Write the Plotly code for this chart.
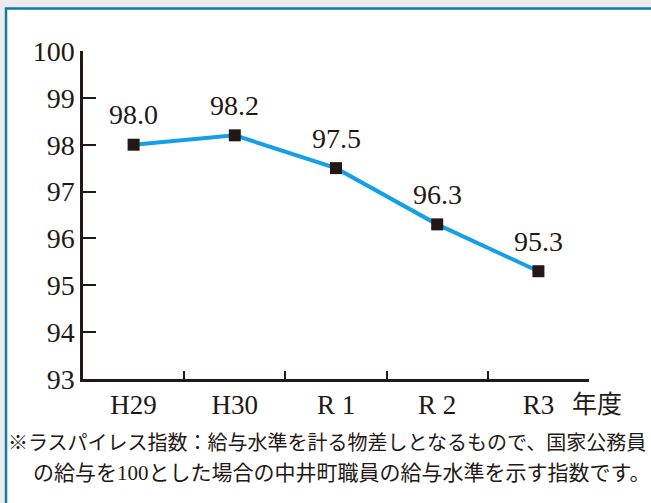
import plotly.graph_objects as go

categories = ["H29", "H30", "R 1", "R 2", "R3"]
values = [98.0, 98.2, 97.5, 96.3, 95.3]
value_labels = ["98.0", "98.2", "97.5", "96.3", "95.3"]
y_ticks = [93, 94, 95, 96, 97, 98, 99, 100]
unit_label = "年度"
note_line1 = "※ラスパイレス指数：給与水準を計る物差しとなるもので、国家公務員"
note_line2 = "の給与を100とした場合の中井町職員の給与水準を示す指数です。"

W, H = 651, 503
L, R, T, B = 83, 62, 51, 124
pw, ph = W - L - R, H - T - B

def px(x):
    return (x - L) / pw

def py(y):
    return (H - B - y) / ph

FONT = "Liberation Serif, Noto Sans CJK JP, serif"
DARK = "#231815"

fig = go.Figure()
fig.add_trace(go.Scatter(
    x=categories, y=values, mode="lines+markers",
    line=dict(color="#14a0e6", width=4),
    marker=dict(symbol="square", size=12, color=DARK),
    hoverinfo="skip", cliponaxis=False,
))

annotations = []
for c, v, t in zip(categories, values, value_labels):
    annotations.append(dict(x=c, y=v, text=t, showarrow=False, xref="x", yref="y",
                            yanchor="middle", yshift=30,
                            font=dict(family=FONT, size=28, color=DARK)))
annotations.append(dict(x=px(570), y=py(404), xref="paper", yref="paper", text=unit_label,
                        showarrow=False, xanchor="left", yanchor="middle",
                        font=dict(family=FONT, size=25, color=DARK)))
annotations.append(dict(x=px(6), y=py(443), xref="paper", yref="paper", text=note_line1,
                        showarrow=False, xanchor="left", yanchor="middle",
                        font=dict(family=FONT, size=20, color=DARK)))
annotations.append(dict(x=px(31), y=py(473), xref="paper", yref="paper", text=note_line2,
                        showarrow=False, xanchor="left", yanchor="middle",
                        font=dict(family=FONT, size=21, color=DARK)))

fig.update_layout(
    width=W, height=H,
    margin=dict(l=L, r=R, t=T, b=B, pad=0),
    paper_bgcolor="#ececec", plot_bgcolor="rgba(0,0,0,0)",
    showlegend=False,
    annotations=annotations,
    shapes=[dict(type="rect", xref="paper", yref="paper", layer="below",
                 x0=px(6), y0=py(H + 50), x1=px(W + 50), y1=py(8.5),
                 line=dict(color="#1577b0", width=2.5), fillcolor="white")],
    xaxis=dict(type="category", range=[-0.5, 4.5], tickson="boundaries",
               ticks="inside", ticklen=8, tickwidth=2, tickcolor=DARK,
               showline=True, linecolor=DARK, linewidth=2.5,
               showgrid=False, zeroline=False,
               tickfont=dict(family=FONT, size=27, color=DARK)),
    yaxis=dict(range=[93, 100], tickvals=y_ticks, ticks="inside", ticklen=13,
               tickwidth=2, tickcolor=DARK, showline=True, linecolor=DARK,
               linewidth=2.5, showgrid=False, zeroline=False,
               tickfont=dict(family=FONT, size=28, color=DARK)),
)

fig.write_html("out.html", config={"displayModeBar": False},
               post_script="document.body.style.margin='0';document.body.style.overflow='hidden';")
